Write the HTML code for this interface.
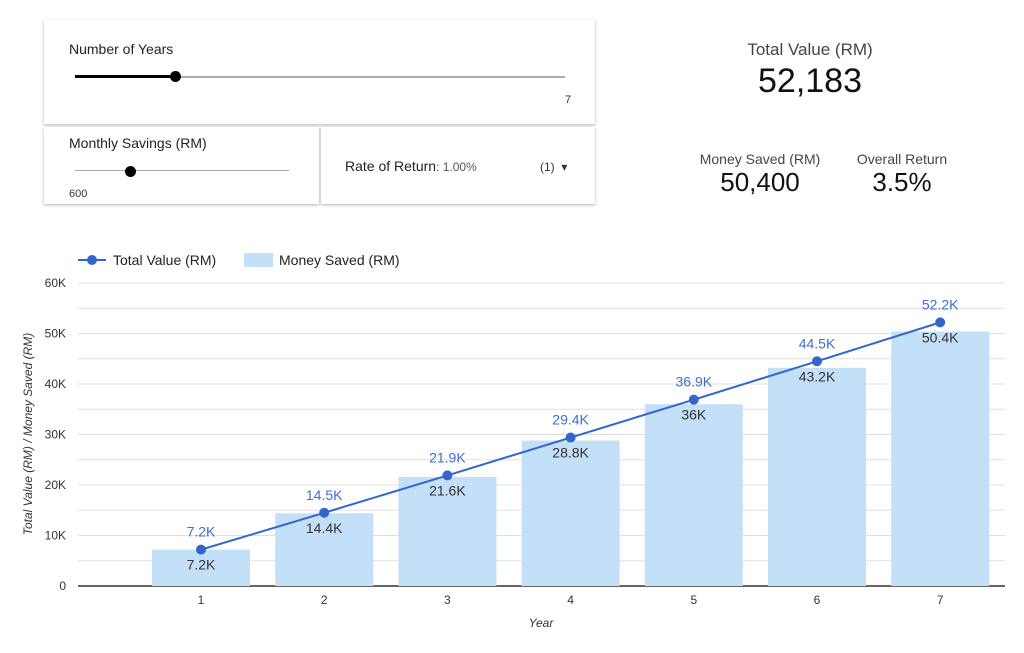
<!DOCTYPE html>
<html><head><meta charset="utf-8">
<style>
body{margin:0;width:1024px;height:653px;background:#fff;font-family:"Liberation Sans",sans-serif;position:relative;overflow:hidden;color:#222}
.card{position:absolute;background:#fff;box-shadow:0 1px 3px rgba(0,0,0,.3)}
.lbl{position:absolute;font-size:14px;color:#222}
.small{position:absolute;font-size:11px;color:#333}
.track{position:absolute;height:2px;background:#aaa}
.knob{position:absolute;width:11px;height:11px;border-radius:50%;background:#000}
.kpi{position:absolute;text-align:center;color:#111}
</style></head><body>
<div class="card" style="left:44px;top:20px;width:551px;height:104px">
 <div class="lbl" style="left:25px;top:21px">Number of Years</div>
 <div class="track" style="left:31px;top:56px;width:490px"></div>
 <div class="track" style="left:31px;top:55px;width:100px;height:3px;background:#000"></div>
 <div class="knob" style="left:126px;top:51px"></div>
 <div class="small" style="left:521px;top:74px">7</div>
</div>
<div class="card" style="left:44px;top:127px;width:275px;height:77px">
 <div class="lbl" style="left:25px;top:8px">Monthly Savings (RM)</div>
 <div class="track" style="left:31px;top:43px;width:214px;height:1px"></div>
 <div class="knob" style="left:81px;top:39px"></div>
 <div class="small" style="left:25px;top:61px">600</div>
</div>
<div class="card" style="left:321px;top:127px;width:274px;height:77px">
 <div class="lbl" style="left:24px;top:31px">Rate of Return<span style="font-size:12px;color:#555">: 1.00%</span></div>
 <div class="small" style="left:219px;top:33px;font-size:12px">(1) &nbsp;▾</div>
</div>
<div class="kpi" style="left:700px;top:40px;width:220px"><div style="font-size:17px;color:#444">Total Value (RM)</div><div style="font-size:34px;margin-top:2px">52,183</div></div>
<div class="kpi" style="left:690px;top:151px;width:140px"><div style="font-size:14px;color:#444">Money Saved (RM)</div><div style="font-size:26px">50,400</div></div>
<div class="kpi" style="left:842px;top:151px;width:120px"><div style="font-size:14px;color:#444">Overall Return</div><div style="font-size:26px">3.5%</div></div>
<svg id="chart" width="1024" height="653" style="position:absolute;left:0;top:0" font-family="Liberation Sans, sans-serif"></svg>
<script>
const categories=["1","2","3","4","5","6","7"];
const totalValue=[7200,14500,21900,29400,36900,44500,52200];
const moneySaved=[7200,14400,21600,28800,36000,43200,50400];
const totalLabels=["7.2K","14.5K","21.9K","29.4K","36.9K","44.5K","52.2K"];
const savedLabels=["7.2K","14.4K","21.6K","28.8K","36K","43.2K","50.4K"];
const yTicks=[0,10000,20000,30000,40000,50000,60000];
const yTickLabels=["0","10K","20K","30K","40K","50K","60K"];
const svg=document.getElementById('chart');const NS="http://www.w3.org/2000/svg";
const y0=586,yTop=283,yMax=60000,left=78,right=1005;
const y=v=>y0-(v/yMax)*(y0-yTop);
const x=i=>201+i*123.2;
function mk(t,a,txt){const e=document.createElementNS(NS,t);for(const k in a)e.setAttribute(k,a[k]);if(txt!==undefined)e.textContent=txt;svg.appendChild(e);return e;}
for(let v=0;v<=yMax;v+=5000){const g=mk('line',{x1:left,x2:right,y1:y(v),y2:y(v),stroke:v?'#e0e0e0':'#333','stroke-width':v?1:1.5});
}
yTicks.forEach((v,i)=>{const t=mk('text',{x:66,y:y(v)+4,'text-anchor':'end','font-size':12,fill:'#333'},yTickLabels[i]);
});
moneySaved.forEach((v,i)=>{const r=mk('rect',{x:x(i)-49,y:y(v),width:98,height:y0-y(v),fill:'#c4dff8'});
});
const pl=mk('polyline',{points:totalValue.map((v,i)=>x(i)+','+y(v)).join(' '),fill:'none',stroke:'#3366cc','stroke-width':2});

totalValue.forEach((v,i)=>{
 const c=mk('circle',{cx:x(i),cy:y(v),r:5,fill:'#3366cc'});
 
 const t=mk('text',{x:x(i),y:y(v)-13,'text-anchor':'middle','font-size':14,fill:'#3d6fcc'},totalLabels[i]);
 
 const s=mk('text',{x:x(i),y:y(v)+20,'text-anchor':'middle','font-size':14,fill:'#333'},savedLabels[i]);
 
 const xt=mk('text',{x:x(i),y:604,'text-anchor':'middle','font-size':12,fill:'#333'},categories[i]);
 
});
const xa=mk('text',{x:541,y:627,'text-anchor':'middle','font-size':12,'font-style':'italic',fill:'#333'},'Year');

const ya=mk('text',{x:0,y:0,'text-anchor':'middle','font-size':12,'font-style':'italic',fill:'#333',transform:'translate(32,434) rotate(-90)'},'Total Value (RM) / Money Saved (RM)');

const l1=mk('line',{x1:78,x2:106,y1:260,y2:260,stroke:'#3366cc','stroke-width':2});

const l2=mk('circle',{cx:92,cy:260,r:5,fill:'#3366cc'});

const l3=mk('text',{x:113,y:265,'font-size':14,fill:'#222'},'Total Value (RM)');

const l4=mk('rect',{x:244,y:253,width:29,height:14,fill:'#c4dff8'});

const l5=mk('text',{x:279,y:265,'font-size':14,fill:'#222'},'Money Saved (RM)');

</script>
</body></html>
